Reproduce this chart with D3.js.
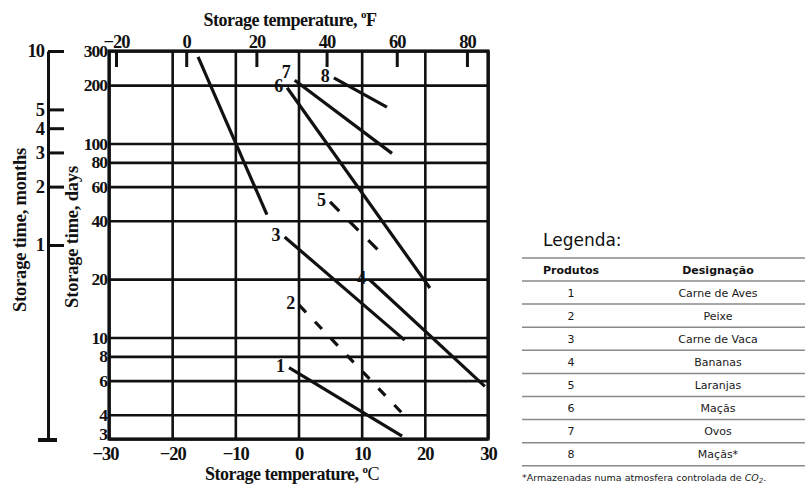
<!DOCTYPE html>
<html>
<head>
<meta charset="utf-8">
<script src="https://cdn.jsdelivr.net/npm/d3@7"></script>
<style>
  body { margin: 0; background: #fff; }
  svg { display: block; }
  .serif text, text.serif { font-family: "Liberation Serif", serif; font-weight: bold; fill: #111; }
  .leg { font-family: "DejaVu Sans", sans-serif; fill: #1a1a1a; }
</style>
</head>
<body>
<div id="chart"></div>
<script>
// données (temp en °C, durée en jours)
const segIds = ["1", "2", "3", "3", "4", "5", "6", "7", "8"];
const tStart = [-1.5, 0.1, -15.9, -2.2, 11.3, 5.0, -1.8, -0.6, 5.6];
const tEnd = [16.4, 17.3, -5.0, 16.8, 29.5, 13.4, 20.8, 14.8, 14.0];
const dStart = [7.0, 14.7, 280, 33, 19.8, 50, 194, 212, 218];
const dEnd = [3.1, 3.8, 43, 9.7, 5.6, 26.6, 18, 89, 154];
const showLabel = [true, true, false, true, true, true, true, true, true];

const cTicks = [-30, -20, -10, 0, 10, 20, 30];
const fTicks = [-20, 0, 20, 40, 60, 80];
const dayTicks = [3, 4, 6, 8, 10, 20, 40, 60, 80, 100, 200, 300];
const monthTicks = [1, 2, 3, 4, 5, 10];

const products = ["1", "2", "3", "4", "5", "6", "7", "8"];
const designations = ["Carne de Aves", "Peixe", "Carne de Vaca", "Bananas", "Laranjas", "Maçãs", "Ovos", "Maçãs*"];

const WIDTH = 805
const HEIGHT = 486
const L = 109, R = 488, T = 51, B = 439

const svg = d3.select("#chart")
    .append("svg")
    .attr("width", WIDTH)
    .attr("height", HEIGHT);

svg.append("rect").attr("width", WIDTH).attr("height", HEIGHT).attr("fill", "#fff");

const x = d3.scaleLinear().domain([-30, 30]).range([L, R]);
const xF = d3.scaleLinear().domain([-22, 86]).range([L, R]); // -30C = -22F, 30C = 86F
const y = d3.scaleLog().domain([3, 300]).range([B, T]);
const yM = d3.scaleLog().domain([0.1, 10]).range([B, T]);   // mois = jours / 30

// grille verticale + axe du bas
const gx = svg.append("g")
    .attr("class", "serif")
    .attr("transform", `translate(0,${B})`)
    .call(d3.axisBottom(x).tickValues(cTicks).tickSize(-(B - T)).tickPadding(8).tickSizeOuter(0));

// grille horizontale + axe des jours
const gy = svg.append("g")
    .attr("class", "serif")
    .attr("transform", `translate(${L},0)`)
    .call(d3.axisLeft(y).tickValues(dayTicks).tickFormat(d3.format("d")).tickSize(-(R - L)).tickPadding(2).tickSizeOuter(0));

// axe du haut en °F
const gf = svg.append("g")
    .attr("class", "serif")
    .attr("transform", `translate(0,${T})`)
    .call(d3.axisTop(xF).tickValues(fTicks).tickSize(-16).tickPadding(3).tickSizeOuter(0));

[gx, gy, gf].forEach(g => {
    g.select(".domain").remove();
    g.selectAll("line").attr("stroke", "#111").attr("stroke-width", 2.6);
    g.selectAll("text").attr("font-size", 18.5).attr("letter-spacing", -1).attr("fill", "#111");
});
gy.selectAll("text").attr("font-size", 17.5);
gf.selectAll("line").attr("stroke-width", 3);
gx.selectAll(".tick").filter(d => d === -30).select("text").attr("dx", -4);
gy.selectAll(".tick").filter(d => d === 3).select("text").attr("dy", "0.05em");

// cadre
svg.append("rect")
    .attr("x", L).attr("y", T)
    .attr("width", R - L).attr("height", B - T)
    .attr("fill", "none").attr("stroke", "#111").attr("stroke-width", 3.2);

// axe des mois
const gm = svg.append("g")
    .attr("class", "serif")
    .attr("transform", "translate(48,0)")
    .call(d3.axisLeft(yM).tickValues(monthTicks).tickFormat(d3.format("d")).tickSize(-16).tickPadding(4).tickSizeOuter(0));
gm.select(".domain").attr("stroke", "#111").attr("stroke-width", 3);
gm.selectAll("line").attr("stroke", "#111").attr("stroke-width", 3);
gm.selectAll("text").attr("font-size", 18.5).attr("letter-spacing", -1);
gm.append("line")
    .attr("x1", -10).attr("x2", 9)
    .attr("y1", B + 1).attr("y2", B + 1)
    .attr("stroke", "#111").attr("stroke-width", 4);

// titres des axes
const topTitle = svg.append("text").attr("class", "serif")
    .attr("x", 290).attr("y", 26)
    .attr("text-anchor", "middle").attr("font-size", 18).attr("letter-spacing", -0.5);
topTitle.append("tspan").text("Storage temperature, ");
topTitle.append("tspan").attr("font-size", 11).attr("dy", -8).text("o");
topTitle.append("tspan").attr("dy", 8).text("F");

const botTitle = svg.append("text").attr("class", "serif")
    .attr("x", 292).attr("y", 480)
    .attr("text-anchor", "middle").attr("font-size", 18).attr("letter-spacing", -0.5);
botTitle.append("tspan").text("Storage temperature, ");
botTitle.append("tspan").attr("font-size", 11).attr("dy", -7).text("o");
botTitle.append("tspan").attr("dy", 7).attr("font-weight", "normal").text("C");

svg.append("text").attr("class", "serif")
    .attr("transform", "translate(26,230) rotate(-90)")
    .attr("text-anchor", "middle").attr("font-size", 18.5).attr("letter-spacing", -0.2)
    .text("Storage time, months");

svg.append("text").attr("class", "serif")
    .attr("transform", "translate(78,237) rotate(-90)")
    .attr("text-anchor", "middle").attr("font-size", 18.5).attr("letter-spacing", -0.2)
    .text("Storage time, days");

// droites de conservation
const segs = segIds.map((id, i) => ({ id: id, t0: tStart[i], t1: tEnd[i], d0: dStart[i], d1: dEnd[i], lab: showLabel[i] }));

svg.append("g").selectAll("line")
    .data(segs)
    .enter()
    .append("line")
    .attr("x1", d => x(d.t0)).attr("y1", d => y(d.d0))
    .attr("x2", d => x(d.t1)).attr("y2", d => y(d.d1))
    .attr("stroke", "#111")
    .attr("stroke-width", 3.2)
    .attr("stroke-dasharray", d => d.id === "2" ? "10,13" : d.id === "5" ? "13,14" : null);

svg.append("g").selectAll("text")
    .data(segs.filter(d => d.lab))
    .enter()
    .append("text")
    .attr("class", "serif")
    .attr("x", d => x(d.t0) - 4)
    .attr("y", d => y(d.d0) + (d.id === "7" ? -2 : 4))
    .attr("text-anchor", "end")
    .attr("font-size", 18)
    .text(d => d.id);

// légende (tableau)
const tx0 = 522, tx1 = 805, tabTop = 258, headB = 281, rowH = 23.1;
const leg = svg.append("g").attr("class", "leg");

leg.append("text")
    .attr("x", 543).attr("y", 246)
    .attr("font-size", 17).attr("fill", "#111")
    .text("Legenda:");

const lineYs = [tabTop, headB].concat(products.map((p, i) => headB + (i + 1) * rowH));
leg.selectAll("line")
    .data(lineYs)
    .enter()
    .append("line")
    .attr("x1", tx0).attr("x2", tx1)
    .attr("y1", d => d).attr("y2", d => d)
    .attr("stroke", "#8a8a8a").attr("stroke-width", 1.5);

leg.append("text").attr("x", 571).attr("y", (tabTop + headB) / 2 + 4)
    .attr("text-anchor", "middle").attr("font-size", 11).attr("font-weight", "bold").attr("fill", "#111")
    .text("Produtos");
leg.append("text").attr("x", 718).attr("y", (tabTop + headB) / 2 + 4)
    .attr("text-anchor", "middle").attr("font-size", 11).attr("font-weight", "bold").attr("fill", "#111")
    .text("Designação");

leg.selectAll("text.num")
    .data(products)
    .enter()
    .append("text")
    .attr("class", "num")
    .attr("x", 571)
    .attr("y", (d, i) => headB + (i + 0.5) * rowH + 4)
    .attr("text-anchor", "middle").attr("font-size", 11)
    .text(d => d);

leg.selectAll("text.des")
    .data(designations)
    .enter()
    .append("text")
    .attr("class", "des")
    .attr("x", 718)
    .attr("y", (d, i) => headB + (i + 0.5) * rowH + 4)
    .attr("text-anchor", "middle").attr("font-size", 11)
    .text(d => d);

const foot = leg.append("text")
    .attr("x", 522).attr("y", 481)
    .attr("font-size", 9.5);
foot.append("tspan").text("*Armazenadas numa atmosfera controlada de ");
foot.append("tspan").attr("font-style", "italic").text("CO");
foot.append("tspan").attr("font-style", "italic").attr("font-size", 7).attr("dy", 2).text("2");
foot.append("tspan").attr("dy", -2).text(".");
</script>
</body>
</html>
